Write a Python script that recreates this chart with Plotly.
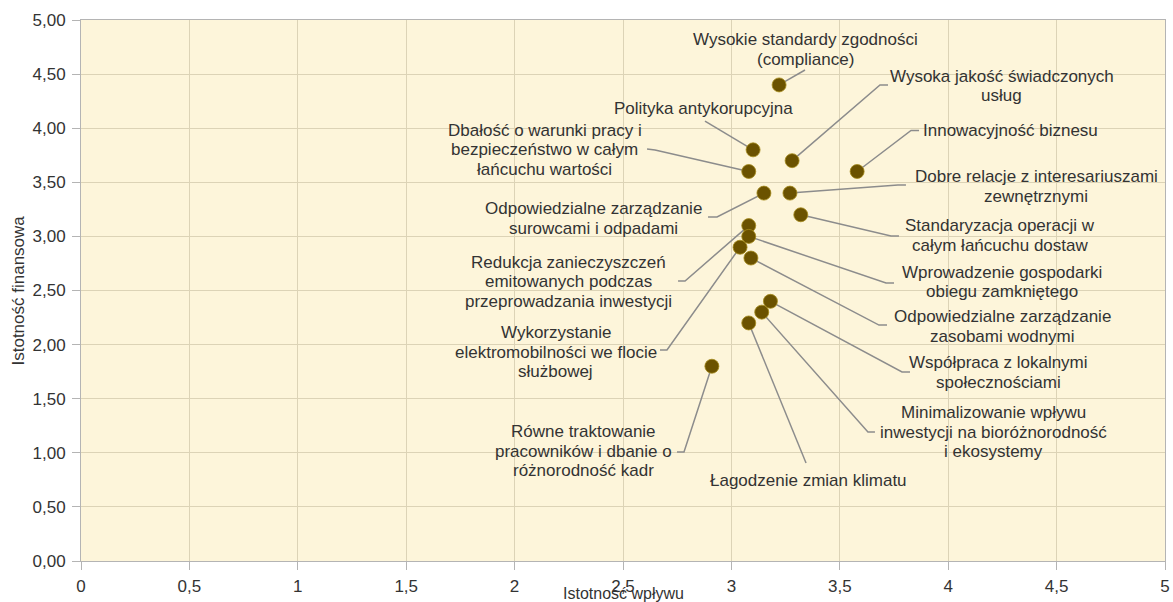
import plotly.graph_objects as go

# ---------------- data ----------------
topics = [
    "Wysokie standardy zgodności<br>(compliance)",
    "Wysoka jakość świadczonych<br>usług",
    "Polityka antykorupcyjna",
    "Innowacyjność biznesu",
    "Dbałość o warunki pracy i<br>bezpieczeństwo w całym<br>łańcuchu wartości",
    "Dobre relacje z interesariuszami<br>zewnętrznymi",
    "Odpowiedzialne zarządzanie<br>surowcami i odpadami",
    "Standaryzacja operacji w<br>całym łańcuchu dostaw",
    "Redukcja zanieczyszczeń<br>emitowanych podczas<br>przeprowadzania inwestycji",
    "Wprowadzenie gospodarki<br>obiegu zamkniętego",
    "Wykorzystanie<br>elektromobilności we flocie<br>służbowej",
    "Odpowiedzialne zarządzanie<br>zasobami wodnymi",
    "Współpraca z lokalnymi<br>społecznościami",
    "Minimalizowanie wpływu<br>inwestycji na bioróżnorodność<br>i ekosystemy",
    "Łagodzenie zmian klimatu",
    "Równe traktowanie<br>pracowników i dbanie o<br>różnorodność kadr",
]
impact = [3.22, 3.28, 3.10, 3.58, 3.08, 3.27, 3.15, 3.32, 3.08, 3.08, 3.04, 3.09, 3.18, 3.14, 3.08, 2.91]
financial = [4.40, 3.70, 3.80, 3.60, 3.60, 3.40, 3.40, 3.20, 3.10, 3.00, 2.90, 2.80, 2.40, 2.30, 2.20, 1.80]

x_ticks = [0, 0.5, 1, 1.5, 2, 2.5, 3, 3.5, 4, 4.5, 5]
y_ticks = [0, 0.5, 1, 1.5, 2, 2.5, 3, 3.5, 4, 4.5, 5]
x_title = "Istotność wpływu"
y_title = "Istotność finansowa"

# ---------------- label layout (screen pixel offsets from point, y down) ----------------
text_offsets = [
    (26.4, -35.4), (209.4, -74.7), (-49.1, -41.8), (153.4, -41.0),
    (-204.2, -21.5), (246.5, -6.6), (-170.4, 25.4), (199.7, 20.7),
    (-180.2, 56.4), (253.3, 45.6), (-184.1, 104.8), (251.6, 68.5),
    (227.6, 71.2), (231.7, 119.9), (59.3, 158.0), (-128.4, 84.8),
]
leader_paths = [
    [(25.9, -14.9)],
    [(87.9, -75.7), (95.9, -75.7)],
    [(-48.1, -28.8)],
    [(53.9, -41.0), (61.9, -41.0)],
    [(-93.7, -21.5), (-101.7, -22.5)],
    [(108.0, -8.1), (116.0, -8.1)],
    [(-46.9, 23.9), (-55.9, 23.9)],
    [(90.2, 21.2), (98.2, 21.2)],
    [(-63.7, 55.4), (-70.7, 55.4)],
    [(137.3, 46.6), (145.3, 46.6)],
    [(-73.1, 102.8), (-80.1, 102.8)],
    [(128.1, 67.0), (136.1, 67.0)],
    [(131.6, 70.7), (139.6, 70.7)],
    [(106.2, 119.9), (113.2, 119.9)],
    [(57.3, 140.0)],
    [(-27.9, 85.8), (-34.9, 85.8)],
]

FONT = "Liberation Sans, Arial, sans-serif"
TEXT_COLOR = "#333333"
LABEL_SIZE = 17
LINE_GAP = 19.5

fig = go.Figure()
fig.add_trace(go.Scatter(
    x=impact, y=financial, mode="markers",
    marker=dict(size=14, color="#6b5200", line=dict(color="#a48a1c", width=0.8)),
    hoverinfo="text", hovertext=[t.replace("<br>", " ") for t in topics],
    showlegend=False, cliponaxis=False,
))

annotations = []
shapes = []
for t, xv, yv, (dx, dy), path in zip(topics, impact, financial, text_offsets, leader_paths):
    lines = t.split("<br>")
    n = len(lines)
    for i, ln in enumerate(lines):
        ly = dy + (i - (n - 1) / 2) * LINE_GAP
        annotations.append(dict(
            x=xv, y=yv, xref="x", yref="y", text=ln, showarrow=False,
            xshift=dx, yshift=-ly, xanchor="center", yanchor="middle",
            font=dict(family=FONT, size=LABEL_SIZE, color=TEXT_COLOR),
        ))
    d = "M 0,0 " + " ".join(f"L {px},{-py}" for px, py in path)
    shapes.append(dict(
        type="path", path=d, xref="x", yref="y",
        xsizemode="pixel", ysizemode="pixel", xanchor=xv, yanchor=yv,
        line=dict(color="#8c8c8c", width=1.5), layer="between",
    ))

# axis titles
annotations.append(dict(
    x=0.5, y=0, xref="paper", yref="paper", text=x_title, showarrow=False,
    xanchor="center", yanchor="top", yshift=-22,
    font=dict(family=FONT, size=16, color=TEXT_COLOR),
))
annotations.append(dict(
    x=0, y=0.5, xref="paper", yref="paper", text=y_title, showarrow=False,
    xanchor="center", yanchor="middle", xshift=-63, textangle=-90,
    font=dict(family=FONT, size=17, color=TEXT_COLOR),
))

axis_common = dict(
    showgrid=True, gridcolor="#dcd3b6", gridwidth=1,
    showline=True, linecolor="#b4b4b4", linewidth=1, mirror=True,
    ticks="outside", ticklen=8, tickcolor="#b4b4b4",
    tickfont=dict(family=FONT, size=17, color=TEXT_COLOR),
    zeroline=False, fixedrange=True, automargin=False,
)

fig.update_layout(
    width=1173, height=602,
    margin=dict(l=81, r=8, t=20, b=41, autoexpand=False),
    paper_bgcolor="white", plot_bgcolor="#fdf5da",
    separators=", ",
    xaxis=dict(range=[0, 5], tickvals=x_ticks, tickformat="", ticklabelstandoff=2, **axis_common),
    yaxis=dict(range=[0, 5], tickvals=y_ticks, tickformat=".2f", ticklabelstandoff=3, **axis_common),
    annotations=annotations, shapes=shapes,
    font=dict(family=FONT, color=TEXT_COLOR),
)

fig.write_html(
    "out.html",
    config={"displayModeBar": False},
    post_script="document.body.style.margin='0';document.body.style.overflow='hidden';",
)
